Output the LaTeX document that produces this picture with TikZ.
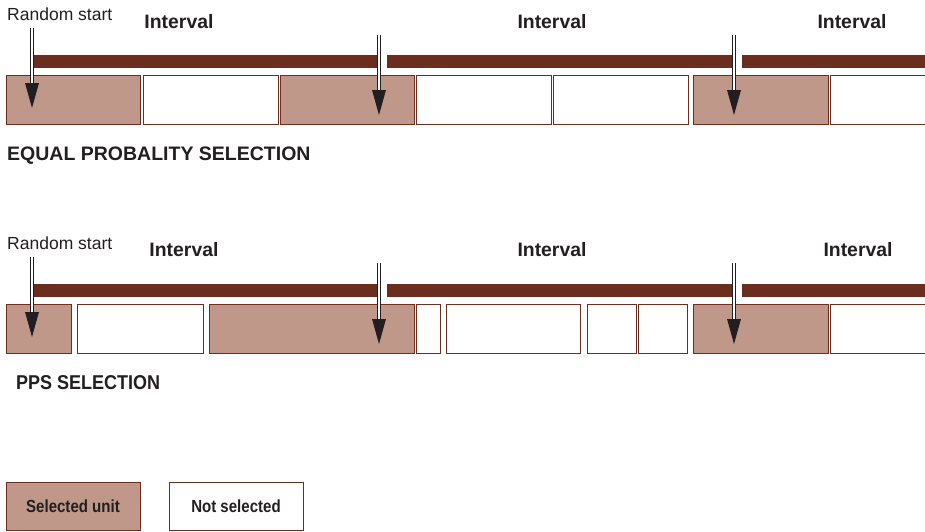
\documentclass[tikz,border=0pt]{standalone}
\usepackage{fontspec}
\setmainfont{Liberation Sans}
\newfontfamily\condsans[FakeStretch=0.86]{Liberation Sans}
\newfontfamily\semicond[FakeStretch=0.9]{Liberation Sans}
\usetikzlibrary{calc}
\definecolor{barbrown}{HTML}{6B2E1E}
\definecolor{selfill}{HTML}{BF988A}
\definecolor{edgebrown}{HTML}{6E2E1F}
\definecolor{arrowblk}{HTML}{231F20}
\definecolor{txt}{HTML}{231F20}
\tikzset{
  selbox/.style={draw=edgebrown, fill=selfill, line width=1pt},
  nobox/.style={draw=edgebrown, fill=white, line width=1pt},
  barseg/.style={fill=barbrown},
  dline/.style={draw=arrowblk, line width=0.8pt, double=white, double distance=1.6pt},
  lbl/.style={inner sep=0pt, text=txt},
  rstart/.style={lbl, anchor=base west, font=\fontsize{17.5}{20}\selectfont},
  intv/.style={lbl, anchor=base, font=\bfseries\fontsize{19.4}{22}\selectfont},
  title/.style={lbl, anchor=base west, font=\bfseries\fontsize{19.5}{22}\selectfont},
  legtext/.style={inner sep=0pt, text=txt, minimum width=134pt, minimum height=48pt, font=\condsans\bfseries\fontsize{17.5}{20}\selectfont}
}
\begin{document}
\begin{tikzpicture}[x=1pt,y=-1pt]
\useasboundingbox (0,0) rectangle (925,531);
\clip (0,0) rectangle (925,531);
\fill[white] (0,0) rectangle (925,531);

% ---------- Row 1: equal probability ----------
\node[rstart] (rs1) at (7,20) {Random start};
\node[intv] (i11) at (179,28) {Interval};
\node[intv] (i12) at (552,28) {Interval};
\node[intv] (i13) at (852,28) {Interval};

\fill[barseg] (32,55) rectangle (377,67.5);
\fill[barseg] (387,55) rectangle (732,67.5);
\fill[barseg] (742,55) rectangle (930,67.5);

\draw[selbox] (6,75) rectangle (140,124);
\draw[nobox]  (143,75) rectangle (278,124);
\draw[selbox] (280,75) rectangle (414,124);
\draw[nobox]  (416,75) rectangle (551,124);
\draw[nobox]  (553,75) rectangle (688,124);
\draw[selbox] (693,75) rectangle (828,124);
\draw[nobox]  (830,75) rectangle (940,124);

\node[title] (t1) at (7,160) {EQUAL PROBALITY SELECTION};

% ---------- Row 2: PPS ----------
\node[rstart] (rs2) at (7,249) {Random start};
\node[intv] (i21) at (184,256) {Interval};
\node[intv] (i22) at (552,256) {Interval};
\node[intv] (i23) at (858,256) {Interval};

\fill[barseg] (32,284) rectangle (377,297);
\fill[barseg] (387,284) rectangle (732,297);
\fill[barseg] (742,284) rectangle (930,297);

\draw[selbox] (6,304) rectangle (71,353);
\draw[nobox]  (77,304) rectangle (203,353);
\draw[selbox] (209,304) rectangle (414,353);
\draw[nobox]  (416,304) rectangle (440,353);
\draw[nobox]  (446,304) rectangle (580,353);
\draw[nobox]  (587,304) rectangle (636,353);
\draw[nobox]  (638,304) rectangle (687,353);
\draw[selbox] (693,304) rectangle (828,353);
\draw[nobox]  (830,304) rectangle (940,353);

\node[title, font=\semicond\bfseries\fontsize{20}{22}\selectfont] (t2) at (16,389) {PPS SELECTION};

% ---------- Arrows ----------
\foreach \x/\t/\e [count=\i] in {32/28/108, 379/35/115, 734/35/115, 32/257/337, 379/263/344, 734/263/344} {
  \coordinate (top\i) at (\x,\t);
  \coordinate (tip\i) at (\x,\e);
  \draw[dline] (top\i) -- ($(tip\i)+(0,-20)$);
  \fill[arrowblk] (tip\i) -- ++(-7,-25) -- ++(14,0) -- cycle;
}

% ---------- Legend ----------
\node[legtext, draw=edgebrown, fill=selfill, line width=1pt] (legsel) at (73,506) {Selected unit};
\node[legtext, draw=edgebrown, fill=white, line width=1pt] (legnot) at (236,506) {Not selected};
\end{tikzpicture}
\end{document}
